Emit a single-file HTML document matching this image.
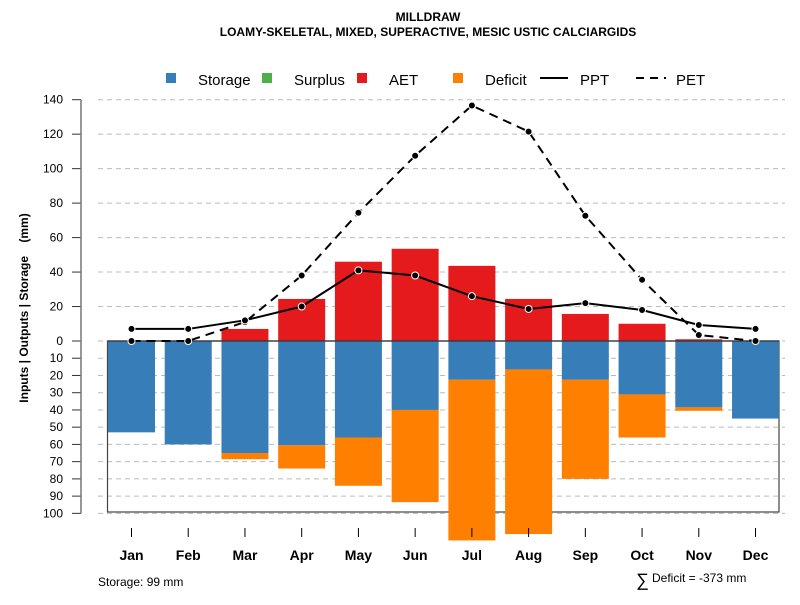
<!DOCTYPE html>
<html><head><meta charset="utf-8"><style>
body{margin:0;background:#fff;}
svg{font-family:"Liberation Sans",Arial,sans-serif;}
</style></head><body>
<svg id="chart" width="800" height="600" viewBox="0 0 800 600">
<text x="428" y="21" text-anchor="middle" font-size="12" font-weight="bold">MILLDRAW</text>
<text x="428" y="36" text-anchor="middle" font-size="12" font-weight="bold">LOAMY-SKELETAL, MIXED, SUPERACTIVE, MESIC USTIC CALCIARGIDS</text>
<g id="legend" font-size="15">
<g><rect x="166" y="73" width="10" height="10" fill="#377eb8"/><text x="198" y="85">Storage</text></g>
<g><rect x="262" y="73" width="10" height="10" fill="#4daf4a"/><text x="294" y="85">Surplus</text></g>
<g><rect x="357" y="73" width="10" height="10" fill="#e41a1c"/><text x="389" y="85">AET</text></g>
<g><rect x="453" y="73" width="10" height="10" fill="#ff7f00"/><text x="485" y="85">Deficit</text></g>
<g><line x1="540" y1="78" x2="568" y2="78" stroke="#000" stroke-width="2"/><text x="580" y="85">PPT</text></g>
<g><line x1="636" y1="78" x2="666" y2="78" stroke="#000" stroke-width="2" stroke-dasharray="8,6"/><text x="676" y="85">PET</text></g>
</g>
<text transform="translate(28,308) rotate(-90)" text-anchor="middle" font-size="12" font-weight="bold">Inputs | Outputs | Storage&#160;&#160;&#160;&#160;(mm)</text>
<g id="grid"></g><g id="bars"></g><g id="lines"></g><g id="axes"></g>
<text x="98" y="586" font-size="12">Storage: 99 mm</text>
<text x="636" y="586" font-size="18">∑</text>
<text x="652" y="582" font-size="12">Deficit = -373 mm</text>
</svg>
<script>
const months=["Jan","Feb","Mar","Apr","May","Jun","Jul","Aug","Sep","Oct","Nov","Dec"];
const storage=[53,60,65,60.5,56,40,22.5,16.5,22.5,31,38.5,45];
const deficit=[0,0,3.6,13.5,28,53.5,93.2,95.5,57.5,25,2,0];
const aet=[0,0,7,24.4,46,53.5,43.6,24.4,15.7,10,1,0];
const surplus=[0,0,0,0,0,0,0,0,0,0,0,0];
const ppt=[7,7,12,20,41,38,26,18.6,22,18,9.3,7];
const pet=[0,0,11,38,74.4,107.5,136.6,121.5,72.7,35.5,3.5,0];
const upperTicks=[0,20,40,60,80,100,120,140];
const lowerTicks=[10,20,30,40,50,60,70,80,90,100];
const NS="http://www.w3.org/2000/svg";
const y0=341,k=1.7236;
const yUp=v=>y0-v*k, yDn=v=>y0+v*k;
const xC=i=>131.5+i*56.73, bw=47;
function mk(tag,attrs,parent){const e=document.createElementNS(NS,tag);for(const a in attrs)e.setAttribute(a,attrs[a]);document.getElementById(parent).appendChild(e);return e;}
upperTicks.forEach(v=>{
 const g=mk("line",{x1:98,x2:785,y1:yUp(v),y2:yUp(v),stroke:"#bbb","stroke-dasharray":"5,4"},"grid");
 
 
 const t=mk("line",{x1:72,x2:81,y1:yUp(v),y2:yUp(v),stroke:"#333"},"axes");
 
 
 const l=mk("text",{x:63,y:yUp(v)+4,"text-anchor":"end","font-size":"12"},"axes");l.textContent=v;
 
 
});
lowerTicks.forEach(v=>{
 const g=mk("line",{x1:98,x2:785,y1:yDn(v),y2:yDn(v),stroke:"#bbb","stroke-dasharray":"5,4"},"grid");
 
 
 const t=mk("line",{x1:72,x2:81,y1:yDn(v),y2:yDn(v),stroke:"#333"},"axes");
 
 
 const l=mk("text",{x:63,y:yDn(v)+4,"text-anchor":"end","font-size":"12"},"axes");l.textContent=v;
 
 
});
const ax=mk("line",{x1:81,x2:81,y1:yUp(140),y2:yDn(100),stroke:"#777","stroke-width":1.5},"axes");


const box=mk("rect",{x:107.5,y:y0,width:671.5,height:171,fill:"none",stroke:"#444","stroke-width":1.2},"grid");


months.forEach((m,i)=>{
 const x=xC(i)-bw/2;
 if(aet[i]>0){const r=mk("rect",{x:x,y:yUp(aet[i]),width:bw,height:aet[i]*k,fill:"#e41a1c"},"bars");
 
 }
 if(surplus[i]>0){const r=mk("rect",{x:x,y:yUp(aet[i]+surplus[i]),width:bw,height:surplus[i]*k,fill:"#4daf4a"},"bars");
 
 }
 const s=mk("rect",{x:x,y:y0,width:bw,height:storage[i]*k,fill:"#377eb8"},"bars");
 
 
 if(deficit[i]>0){const r=mk("rect",{x:x,y:yDn(storage[i]),width:bw,height:deficit[i]*k,fill:"#ff7f00"},"bars");
 
 }
 const t=mk("line",{x1:xC(i),x2:xC(i),y1:528,y2:537,stroke:"#000"},"axes");
 
 
 const l=mk("text",{x:xC(i),y:560,"text-anchor":"middle","font-size":"14","font-weight":"bold"},"axes");l.textContent=m;
 
 
});
const zl=mk("line",{x1:107.5,x2:779,y1:y0,y2:y0,stroke:"#333","stroke-width":1.2},"bars");


function series(arr,name,dash){
 const p=mk("polyline",{points:arr.map((v,i)=>xC(i)+","+yUp(v)).join(" "),fill:"none",stroke:"#000","stroke-width":2,"stroke-dasharray":dash},"lines");
 
 
 arr.forEach((v,i)=>{const c=mk("circle",{cx:xC(i),cy:yUp(v),r:3.5,fill:"#000",stroke:"#fff","stroke-width":1},"lines");
 
 });
}
series(pet,"pet","9,6");
series(ppt,"ppt","none");
</script>
</body></html>
